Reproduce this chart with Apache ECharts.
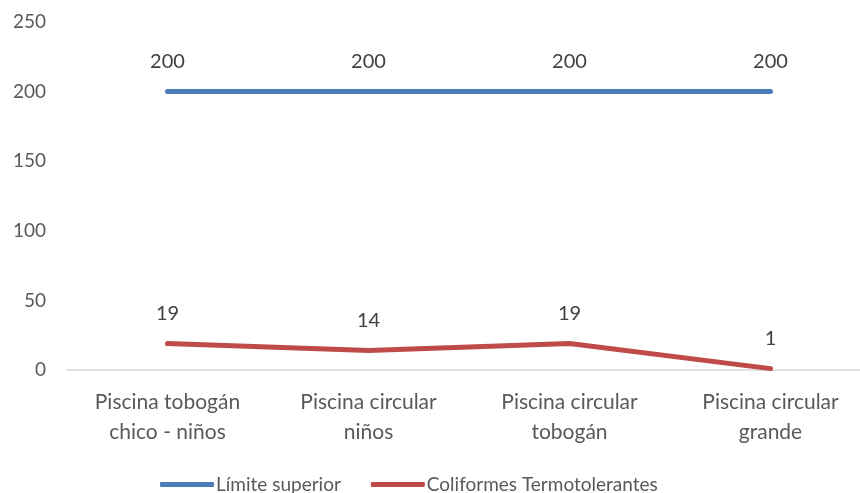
<!DOCTYPE html>
<html>
<head>
<meta charset="utf-8">
<script src="https://cdn.jsdelivr.net/npm/echarts@6/dist/echarts.min.js"></script>
<style>
  html, body { margin: 0; padding: 0; background: #fff; overflow: hidden; }
  #chart { width: 871px; height: 493px; }
</style>
</head>
<body>
<div id="chart"></div>
<script>
// piscinas: limite vs coliformes
var categories = ['Piscina tobogán\nchico - niños', 'Piscina circular\nniños', 'Piscina circular\ntobogán', 'Piscina circular\ngrande'];
var limiteSuperior = [200, 200, 200, 200];
var coliformes = [19, 14, 19, 1];
var yTicks = { min: 0, max: 250, step: 50 };

var chart = echarts.init(document.getElementById('chart'));
var font = 'Lato, "Open Sans", sans-serif';

function lineSeries(name, data, color) {
    return {
        name: name,
        type: 'line',
        data: data,
        symbol: 'circle',
        symbolSize: 0,
        showSymbol: true,
        lineStyle: { color: color, width: 5, cap: 'round', join: 'round' },
        itemStyle: { color: color },
        label: {
            show: true,
            position: 'top',
            distance: 20,
            color: '#404040',
            fontFamily: font,
            fontSize: 20
        },
        emphasis: { disabled: true }
    };
}

var option = {
    animation: false,
    grid: { left: 67, top: 22, right: 0, height: 348, containLabel: false },
    legend: {
        bottom: -6,
        left: 155,
        itemWidth: 54,
        itemHeight: 5,
        itemGap: 30,
        icon: 'roundRect',
        textStyle: { color: '#595959', fontFamily: font, fontSize: 19, padding: [0, 0, 0, -3] },
        data: ['Límite superior', 'Coliformes Termotolerantes']
    },
    xAxis: {
        type: 'category',
        data: categories,
        axisLine: { lineStyle: { color: '#d9d9d9', width: 1.5 } },
        axisTick: { show: false },
        axisLabel: { color: '#595959', fontFamily: font, fontSize: 21, lineHeight: 30, margin: 17 }
    },
    yAxis: {
        type: 'value',
        min: yTicks.min,
        max: yTicks.max,
        interval: yTicks.step,
        axisLine: { show: false },
        axisTick: { show: false },
        splitLine: { show: false },
        axisLabel: { color: '#595959', fontFamily: font, fontSize: 19, margin: 21 }
    },
    series: [
        lineSeries('Límite superior', limiteSuperior, '#4a7ebb'),
        lineSeries('Coliformes Termotolerantes', coliformes, '#be4b48')
    ]
};

chart.setOption(option);
window.addEventListener('resize', function () {
    chart.resize();
});
</script>
</body>
</html>
